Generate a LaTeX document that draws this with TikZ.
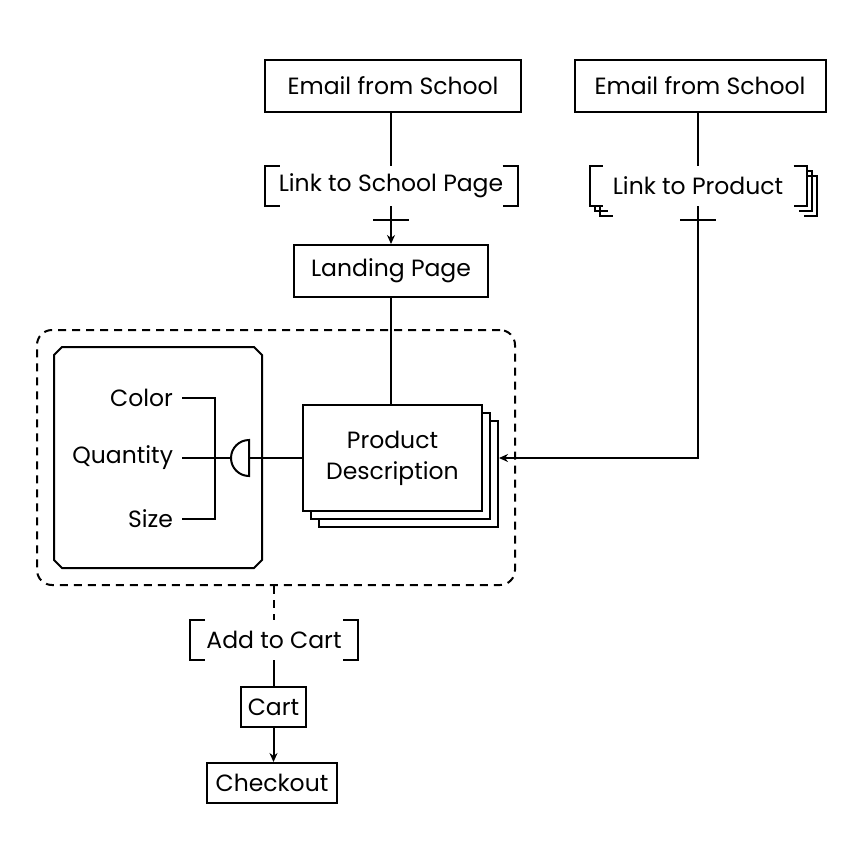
\documentclass[tikz,border=0pt]{standalone}
\usepackage{fontspec}
\setmainfont{Poppins}
\usetikzlibrary{arrows.meta}
\newcommand\drawbrackets[2]{%
  \draw ([xshift=#2]#1.north west) -- (#1.north west) -- (#1.south west) -- ([xshift=#2]#1.south west);
  \draw ([xshift=-#2]#1.north east) -- (#1.north east) -- (#1.south east) -- ([xshift=-#2]#1.south east);}
\begin{document}
\begin{tikzpicture}[x=1pt,y=-1pt,line width=2pt,
  every node/.style={font=\fontsize{23.5}{31}\selectfont, inner sep=0pt},
  box/.style={draw, minimum height=52pt},
  smallbox/.style={draw, minimum height=40pt},
  linkbox/.style={minimum height=38pt},
  arr/.style={-{Stealth[length=9pt,width=8pt]}},
  dsh/.style={dashed, dash pattern=on 8pt off 6pt}]
\useasboundingbox (0,0) rectangle (860,864);
\fill[white] (0,0) rectangle (860,864);
% top row
\node[box, minimum width=256pt] (e1) at (393,86) {Email from School};
\node[box, minimum width=251pt] (e2) at (700,86) {Email from School};
% link to school page
\node[linkbox, minimum width=251pt] (l1) at (391,186) {Link to School Page};
\drawbrackets{l1}{15pt}
% link to product (stacked)
\node[linkbox, minimum width=215pt] (l2c) at (708,196) {};
\node[linkbox, minimum width=215pt] (l2b) at (703,191) {};
\drawbrackets{l2c}{13pt}
\drawbrackets{l2b}{13pt}
\node[linkbox, minimum width=215pt, fill=white] (l2) at (698,186) {Link to Product};
\drawbrackets{l2}{13pt}
% landing page
\node[box, minimum width=194pt] (lp) at (391,271) {Landing Page};
% group frame
\node[draw, dsh, rounded corners=15pt, minimum width=478pt, minimum height=255pt] (grp) at (276,457.5) {};
% options frame (chamfered)
\node[minimum width=206pt, minimum height=219pt] (opt) at (158,457.5) {};
\draw ([xshift=8pt]opt.north west) -- ([xshift=-8pt]opt.north east) -- ([yshift=-8pt]opt.north east)
  -- ([yshift=8pt]opt.south east) -- ([xshift=-8pt]opt.south east) -- ([xshift=8pt]opt.south west)
  -- ([yshift=8pt]opt.south west) -- ([yshift=-8pt]opt.north west) -- cycle;
\node[anchor=east] (color) at (174,398) {Color};
\node[anchor=east] (qty) at (174,458) {Quantity};
\node[anchor=east] (size) at (174,519) {Size};
\coordinate (bt) at (215,398);
\coordinate (bb) at (215,519);
\coordinate (hc) at (249,458);
\draw ([xshift=8pt]color.east) -- (bt) -- (bb) -- ([xshift=8pt]size.east);
\draw ([xshift=8pt]qty.east) -- ([xshift=-18pt]hc);
\draw ([yshift=18pt]hc) arc[start angle=90, end angle=270, radius=18pt] -- cycle;
% product description stack
\node[draw, fill=white, minimum width=179pt, minimum height=106pt] (pd3) at (408.5,474) {};
\node[draw, fill=white, minimum width=179pt, minimum height=106pt] (pd2) at (400.5,466) {};
\node[draw, fill=white, minimum width=179pt, minimum height=106pt, align=center] (pd) at (392.5,458) {Product\\Description};
\draw (hc) -- (pd.west);
% connectors
\draw (l1.north |- e1.south) -- (l1.north);
\draw[arr] (l1.south) -- (lp.north);
\draw ([xshift=-18pt,yshift=-14pt]l1.south) -- ([xshift=18pt,yshift=-14pt]l1.south);
\draw (l2.north |- e2.south) -- (l2.north);
\draw[arr] (l2.south) |- (pd3.east |- pd.center);
\draw ([xshift=-18pt,yshift=-14pt]l2.south) -- ([xshift=18pt,yshift=-14pt]l2.south);
\draw (lp.south) -- (lp.south |- pd.north);
% bottom
\node[linkbox, minimum width=166pt] (atc) at (274,640) {Add to Cart};
\drawbrackets{atc}{15pt}
\node[smallbox, minimum width=65pt] (cart) at (273.5,707) {Cart};
\node[smallbox, minimum width=130pt] (chk) at (272,783) {Checkout};
\draw[dsh] (atc.north |- grp.south) -- (atc.north);
\draw (atc.south) -- (atc.south |- cart.north);
\draw[arr] (cart.south) -- (cart.south |- chk.north);
\end{tikzpicture}
\end{document}
